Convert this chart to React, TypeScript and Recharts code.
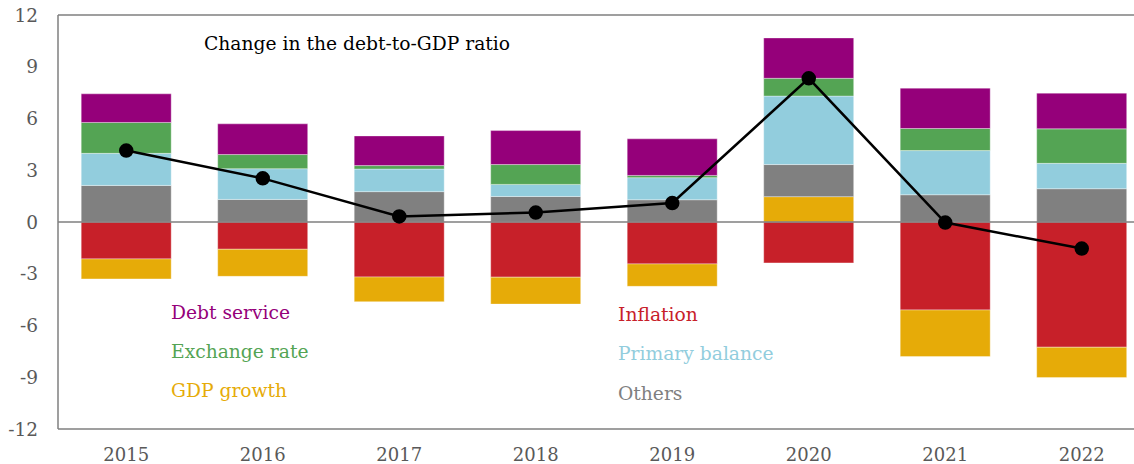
import React from "react";
import {
  ComposedChart,
  Bar,
  Line,
  XAxis,
  YAxis,
  ReferenceLine,
} from "recharts";

// Decomposition of the change in the debt-to-GDP ratio (pp), 2015-2022
const years = ["2015", "2016", "2017", "2018", "2019", "2020", "2021", "2022"];
const inflation = [-2.14, -1.58, -3.19, -3.2, -2.43, -2.37, -5.1, -7.26];
const gdpGrowth = [-1.16, -1.57, -1.43, -1.56, -1.3, 1.47, -2.7, -1.76];
const others = [2.12, 1.31, 1.76, 1.48, 1.29, 1.86, 1.58, 1.93];
const primaryBalance = [1.86, 1.78, 1.31, 0.7, 1.28, 3.97, 2.56, 1.47];
const exchangeRate = [1.79, 0.82, 0.2, 1.15, 0.13, 1.03, 1.28, 2.0];
const debtService = [1.66, 1.78, 1.72, 1.97, 2.12, 2.34, 2.34, 2.07];
const debtChange = [4.14, 2.53, 0.32, 0.55, 1.1, 8.33, -0.03, -1.54];

const yTicks = [-12, -9, -6, -3, 0, 3, 6, 9, 12];

const C = {
  debt: "#95007a",
  fx: "#54a454",
  gdp: "#e6ab08",
  infl: "#c72029",
  primary: "#92cddd",
  others: "#808080",
  axis: "#7f7f7f",
  tick: "#595959",
};

const FONT = "'DejaVu Serif', serif";

const data = years.map((y, i) => ({
  year: y,
  inflation: inflation[i],
  gdpGrowth: gdpGrowth[i],
  others: others[i],
  primaryBalance: primaryBalance[i],
  exchangeRate: exchangeRate[i],
  debtService: debtService[i],
  debtChange: debtChange[i],
}));

const legendLeft = [
  { label: "Debt service", color: C.debt, top: 302 },
  { label: "Exchange rate", color: C.fx, top: 341 },
  { label: "GDP growth", color: C.gdp, top: 380 },
];
const legendRight = [
  { label: "Inflation", color: C.infl, top: 304 },
  { label: "Primary balance", color: C.primary, top: 343 },
  { label: "Others", color: C.others, top: 383 },
];

const barProps = {
  stackId: "a",
  isAnimationActive: false,
  stroke: "rgba(255,255,255,0.6)",
  strokeWidth: 0.6,
};

export default function App() {
  return (
    <div
      style={{
        position: "fixed",
        left: 0,
        top: 0,
        width: 1134,
        height: 464,
        overflow: "hidden",
        background: "#fff",
        fontFamily: FONT,
      }}
    >
      <ComposedChart
        width={1150}
        height={464}
        data={data}
        stackOffset="sign"
        barCategoryGap="17%"
        margin={{ top: 15, right: 0, bottom: 0, left: 0 }}
      >
        <XAxis
          dataKey="year"
          height={35}
          tickSize={0}
          tickMargin={19}
          axisLine={{ stroke: C.axis, strokeWidth: 1.5 }}
          tick={{ fill: C.tick, fontSize: 18, fontFamily: FONT }}
        />
        <YAxis
          width={58}
          domain={[-12, 12]}
          ticks={yTicks}
          interval={0}
          tickSize={0}
          tickMargin={20}
          axisLine={{ stroke: C.axis, strokeWidth: 1.5 }}
          tick={{ fill: C.tick, fontSize: 18.5, fontFamily: FONT }}
        />
        <Bar dataKey="inflation" fill={C.infl} {...barProps} />
        <Bar dataKey="gdpGrowth" fill={C.gdp} {...barProps} />
        <Bar dataKey="others" fill={C.others} {...barProps} />
        <Bar dataKey="primaryBalance" fill={C.primary} {...barProps} />
        <Bar dataKey="exchangeRate" fill={C.fx} {...barProps} />
        <Bar dataKey="debtService" fill={C.debt} {...barProps} />
        <ReferenceLine y={0} stroke={C.axis} strokeWidth={1.5} />
        <ReferenceLine y={12} stroke={C.axis} strokeWidth={1.5} />
        <Line
          dataKey="debtChange"
          stroke="#000"
          strokeWidth={2.5}
          dot={{ r: 6, fill: "#000", stroke: "#000" }}
          isAnimationActive={false}
        />
      </ComposedChart>

      <div
        style={{
          position: "absolute",
          left: 204,
          top: 33,
          fontSize: 18.7,
          color: "#000",
          whiteSpace: "nowrap",
        }}
      >
        Change in the debt-to-GDP ratio
      </div>
      {legendLeft.map((l) => (
        <div
          key={l.label}
          style={{ position: "absolute", left: 171, top: l.top, fontSize: 18.7, color: l.color, whiteSpace: "nowrap" }}
        >
          {l.label}
        </div>
      ))}
      {legendRight.map((l) => (
        <div
          key={l.label}
          style={{ position: "absolute", left: 618, top: l.top, fontSize: 18.7, color: l.color, whiteSpace: "nowrap" }}
        >
          {l.label}
        </div>
      ))}
    </div>
  );
}
